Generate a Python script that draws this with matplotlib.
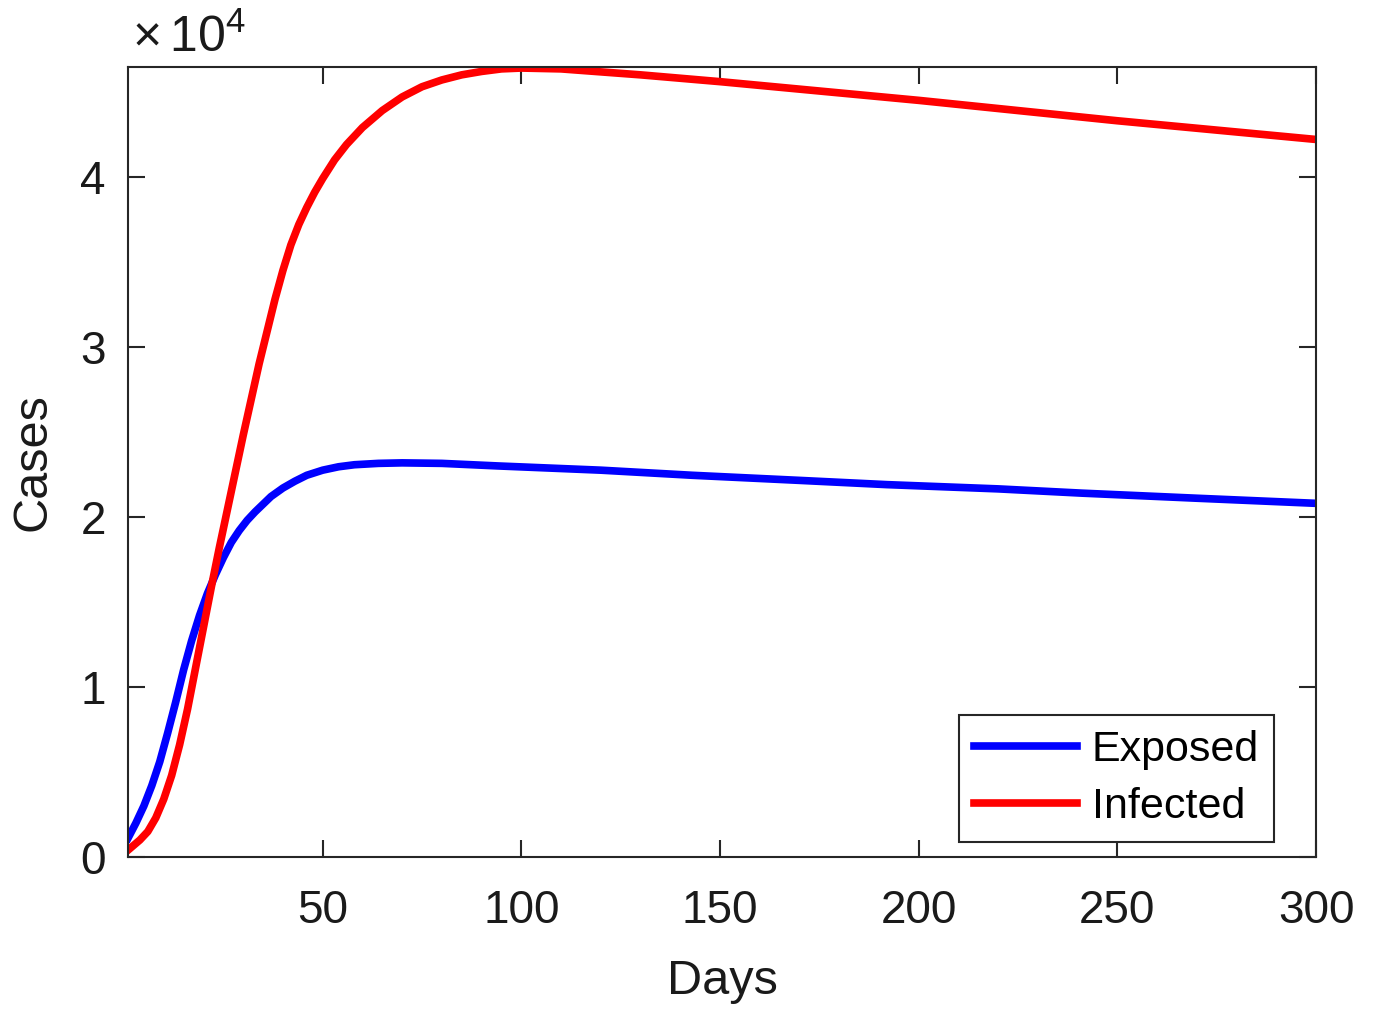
import matplotlib
matplotlib.use('Agg')
import matplotlib.pyplot as plt
from matplotlib.ticker import FuncFormatter

# values (cases)
exposed_days = [1, 3, 5, 7, 9, 11, 13, 15, 17, 19, 21, 23, 25, 27, 29, 31, 33, 35, 37,
                40, 43, 46, 50, 54, 58, 64, 70, 80, 94, 120, 143, 170, 192, 220, 241,
                270, 300]
exposed = [1100, 2000, 3000, 4200, 5600, 7300, 9100, 11000, 12700, 14200, 15500,
           16600, 17600, 18500, 19200, 19800, 20300, 20750, 21200, 21700, 22100,
           22450, 22750, 22950, 23070, 23150, 23180, 23150, 23000, 22750, 22450,
           22150, 21900, 21650, 21400, 21100, 20800]

infected_days = [1, 2, 4, 6, 8, 10, 12, 14, 16, 18, 20, 22, 24, 26, 28, 30, 32, 34, 36,
                 38, 40, 42, 44, 46, 48, 50, 53, 56, 60, 65, 70, 75, 80, 85, 90, 95,
                 100, 110, 130, 150, 200, 250, 300]
infected = [400, 600, 1000, 1500, 2300, 3400, 4800, 6600, 8700, 11100, 13500, 15900,
            18200, 20400, 22600, 24800, 26900, 29000, 30900, 32800, 34500, 36000,
            37200, 38200, 39100, 39900, 41000, 41900, 42900, 43900, 44700, 45300,
            45700, 46000, 46200, 46350, 46400, 46350, 46000, 45600, 44500, 43300,
            42200]

yticks = [0, 10000, 20000, 30000, 40000]
xticks = [50, 100, 150, 200, 250, 300]

plt.rcParams['font.family'] = ['Liberation Sans', 'DejaVu Sans']
plt.rcParams['mathtext.fontset'] = 'custom'
plt.rcParams['mathtext.rm'] = 'Liberation Sans'

fig = plt.figure(figsize=(13.76, 10.13), dpi=100)
ax = fig.add_axes([0.093, 0.154, 0.8634, 0.780])

ax.plot(exposed_days, exposed, color='#0000ff', linewidth=5.5, label='Exposed',
        solid_joinstyle='round')
ax.plot(infected_days, infected, color='#ff0000', linewidth=5.5, label='Infected',
        solid_joinstyle='round')

ax.set_xlim(1, 300)
ax.set_ylim(0, 46470)
ax.set_xticks(xticks)
ax.set_yticks(yticks)
ax.yaxis.set_major_formatter(FuncFormatter(lambda v, p: '%d' % round(v / 10000)))

dark = '#262626'
for s in ax.spines.values():
    s.set_linewidth(1.5)
    s.set_color(dark)
ax.tick_params(direction='in', length=12, width=1.5, color=dark,
               top=True, right=True, labelsize=33, labelcolor='#1a1a1a')
ax.tick_params(axis='x', pad=23)
ax.tick_params(axis='y', pad=16)

ax.set_xlabel('Days', fontsize=35, color='#1a1a1a', labelpad=19)
ax.set_ylabel('Cases', fontsize=35, color='#1a1a1a', labelpad=18)

ax.text(0.003, 1.006, r'$\times\,\mathregular{10^{4}}$', transform=ax.transAxes,
        fontsize=36, color='#1a1a1a', ha='left', va='bottom')

leg = ax.legend(loc='lower right', bbox_to_anchor=(0.9646, 0.019), borderaxespad=0,
                fancybox=False, edgecolor=dark, fontsize=31, handlelength=2.4,
                handletextpad=0.33, labelspacing=0.4, borderpad=0.35, framealpha=1)
leg.get_frame().set_linewidth(1.5)

plt.savefig('out.png', dpi=100)
